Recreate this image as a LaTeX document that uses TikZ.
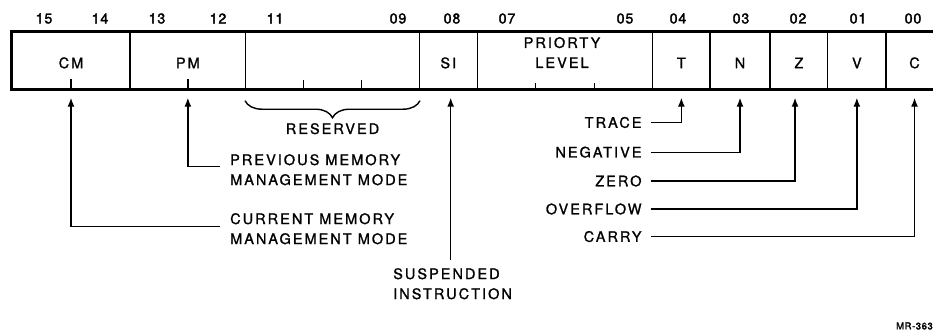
\documentclass[tikz,border=0pt]{standalone}
\usepackage{fontspec}
\setmainfont{TeX Gyre Heros}[LetterSpace=14,FakeBold=1.2]
\newfontfamily\numfont{TeX Gyre Heros}[LetterSpace=6,FakeBold=2]
\usetikzlibrary{arrows.meta,decorations.pathreplacing,calc}
\begin{document}
\begin{tikzpicture}[x=1pt,y=-1pt,
  field/.style={draw, line width=1.4pt, inner sep=0pt, minimum height=57pt,
    text height=15.4pt, text depth=0pt, font=\fontsize{14.5}{20}\selectfont},
  lbl/.style={inner sep=0pt, font=\fontsize{14.5}{20}\selectfont},
  num/.style={inner sep=0pt, font=\numfont\fontsize{14.2}{15}\selectfont},
  conn/.style={line width=1.4pt, -{Latex[length=9pt,width=7pt]}, shorten >=8pt},
  tick/.style={line width=1.4pt}]
\useasboundingbox (0,0) rectangle (933,333);
% fields
\node[field, minimum width=118pt]   (cm)  at (71,60.5)    {CM};
\node[field, minimum width=115.7pt] (pm)  at (187.85,60.5){PM};
\node[field, minimum width=173.6pt] (res) at (332.5,60.5) {};
\node[field, minimum width=58pt]    (si)  at (448.3,60.5) {SI};
\node[field, minimum width=175.4pt] (pri) at (565,60.5)   {};
\node[field, minimum width=57.3pt]  (t)   at (681.35,60.5){T};
\node[field, minimum width=60pt]    (n)   at (740,60.5)   {N};
\node[field, minimum width=57.7pt]  (z)   at (798.85,60.5){Z};
\node[field, minimum width=58.3pt]  (v)   at (856.85,60.5){V};
\node[field, minimum width=57pt]    (c)   at (914.5,60.5) {C};
\draw[line width=2.2pt] (cm.north west) rectangle (c.south east);
\node[lbl, align=center] (prit) at (562,52.5) {PRIORTY\\LEVEL};
% ticks
\draw[tick] (cm.south) -- ++(0,-11);
\draw[tick] (pm.south) -- ++(0,-11);
\draw[tick] ($(res.south west)!1/3!(res.south east)$) -- ++(0,-10);
\draw[tick] ($(res.south west)!2/3!(res.south east)$) -- ++(0,-10);
\draw[tick] ($(pri.south west)!1/3!(pri.south east)$) -- ++(0,-7);
\draw[tick] ($(pri.south west)!2/3!(pri.south east)$) -- ++(0,-7);
% bit numbers
\node[num] (b15) at (44,18.5)  {15};
\node[num] (b14) at (100,18.5) {14};
\node[num] (b13) at (157,18.5) {13};
\node[num] (b12) at (218,18.5) {12};
\node[num] (b11) at (275,18.5) {11};
\node[num] (b09) at (398,18.5) {09};
\node[num] (b08) at (452,18.5) {08};
\node[num] (b07) at (507,18.5) {07};
\node[num] (b05) at (625,18.5) {05};
\node[num] (b04) at (678,18.5) {04};
\node[num] (b03) at (741,18.5) {03};
\node[num] (b02) at (798,18.5) {02};
\node[num] (b01) at (858,18.5) {01};
\node[num] (b00) at (913,18.5) {00};
% reserved brace
\draw[line width=1.4pt, decorate, decoration={brace, mirror, amplitude=17pt}]
  ([yshift=-11pt]res.south west) -- ([yshift=-11pt]res.south east);
\node[lbl] (rest) at ([yshift=-39pt]res.south) {RESERVED};
% left labels
\node[lbl, align=left, anchor=north west] (prev) at (230,154) {PREVIOUS MEMORY\\MANAGEMENT MODE};
\node[lbl, align=left, anchor=north west] (curr) at (230,213) {CURRENT MEMORY\\MANAGEMENT MODE};
\node[lbl, align=left, anchor=north west] (susp) at (393,268) {SUSPENDED\\INSTRUCTION};
\draw[conn] ([xshift=-10pt,yshift=-12.7pt]prev.north west) -| (pm.south);
\draw[conn] ([xshift=-10pt,yshift=-13.2pt]curr.north west) -| (cm.south);
\draw[conn, shorten <=8pt] ([xshift=2.4pt]susp.north -| si.south) -- ([xshift=2.4pt]si.south);
% right labels
\node[lbl, anchor=east] (trace) at (641.7,122.5) {TRACE};
\node[lbl, anchor=east] (neg)   at (641.7,152.2) {NEGATIVE};
\node[lbl, anchor=east] (zero)  at (641.7,181)   {ZERO};
\node[lbl, anchor=east] (ovf)   at (641.7,209)   {OVERFLOW};
\node[lbl, anchor=east] (carry) at (641.7,236.6) {CARRY};
\draw[conn] ([xshift=9pt]trace.east) -| (t.south);
\draw[conn] ([xshift=9pt]neg.east)   -| (n.south);
\draw[conn] ([xshift=9pt]zero.east)  -| ([xshift=-3.8pt]z.south);
\draw[conn] ([xshift=9pt]ovf.east)   -| (v.south);
\draw[conn] ([xshift=9pt]carry.east) -| (c.south);
% figure id
\node[inner sep=0pt, anchor=east, font=\numfont\fontsize{9.5}{10}\selectfont] (mr) at (933,326) {MR-363};
\end{tikzpicture}
\end{document}
